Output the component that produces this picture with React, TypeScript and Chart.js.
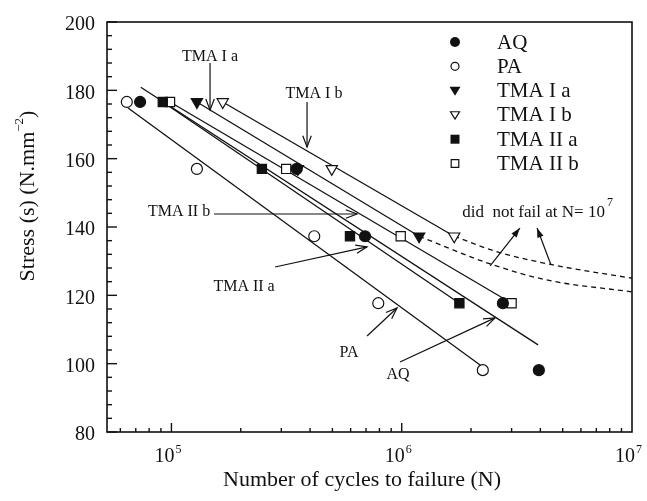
import React, { useEffect, useRef } from 'react';
import { Chart, registerables } from 'chart.js';

Chart.register(...registerables);

const FONT = '"Liberation Serif", "Times New Roman", serif';
const INK = '#111111';

// ---- axis ranges / ticks ----
const xMin = 52500;
const xMax = 10000000;
const yMin = 80;
const yMax = 200;
const yTickLabels = [80, 100, 120, 140, 160, 180, 200];
const xTickExponents = [5, 6, 7];

// ---- test data: cycles to failure at each stress level (N/mm^2) ----
const aqCycles = [73100, 350000, 693000, 2750000, 3940000];
const aqStress = [176.6, 157.0, 137.3, 117.7, 98.1];
const paCycles = [64000, 129000, 417000, 791000, 2250000];
const paStress = [176.6, 157.0, 137.3, 117.7, 98.1];
const tma1aCycles = [129000, 354000, 1190000];
const tma1aStress = [176.6, 157.0, 137.3];
const tma1bCycles = [167000, 497000, 1690000];
const tma1bStress = [176.6, 157.0, 137.3];
const tma2aCycles = [91700, 247000, 596000, 1780000];
const tma2aStress = [176.6, 157.0, 137.3, 117.7];
const tma2bCycles = [98600, 315000, 990000, 3000000];
const tma2bStress = [176.6, 157.0, 137.3, 117.7];

// ---- fitted S-N lines (end points) ----
const paFitCycles = [64800, 2250000];
const paFitStress = [174.8, 99.0];
const aqFitCycles = [73600, 3910000];
const aqFitStress = [180.9, 105.5];
const tma1aFitCycles = [129000, 1190000];
const tma1aFitStress = [176.6, 137.3];
const tma1bFitCycles = [167000, 1690000];
const tma1bFitStress = [176.6, 137.3];
const tma2aFitCycles = [91700, 1780000];
const tma2aFitStress = [176.6, 117.7];
const tma2bFitCycles = [98600, 3000000];
const tma2bFitStress = [176.6, 117.7];

// ---- run-out (did not fail) dashed curves ----
const tma1aRunCycles = [1190000, 2420000, 4260000, 10000000];
const tma1aRunStress = [137.3, 129.2, 124.5, 121.0];
const tma1bRunCycles = [1690000, 2580000, 4550000, 10000000];
const tma1bRunStress = [137.3, 132.8, 128.9, 125.0];

// ---- legend ----
const legendLabels = ['AQ', 'PA', 'TMA I a', 'TMA I b', 'TMA II a', 'TMA II b'];

// ---- annotations (data coordinates) ----
const noteTexts = [
  { text: 'TMA I a', n: 147100, s: 189.8 },
  { text: 'TMA I b', n: 416000, s: 178.9 },
  { text: 'TMA II b', n: 107900, s: 144.4 },
  { text: 'TMA II a', n: 206700, s: 122.4 },
  { text: 'PA', n: 590000, s: 103.1 },
  { text: 'AQ', n: 964000, s: 96.7 },
];
const noteArrows = [
  { from: [147100, 188.0], to: [147100, 174.2], filled: false },
  { from: [388000, 176.6], to: [388000, 163.4], filled: false },
  { from: [153100, 143.8], to: [639500, 143.8], filled: false },
  { from: [281800, 128.3], to: [707000, 134.2], filled: false },
  { from: [707000, 108.1], to: [954000, 116.3], filled: false },
  { from: [983000, 100.5], to: [2540000, 113.4], filled: false },
  { from: [2420000, 128.6], to: [3260000, 139.7], filled: true },
  { from: [4450000, 128.9], to: [3870000, 139.7], filled: true },
];
const runoutNote = { text: 'did  not fail at N= 10', sup: '7', n: 1830000, s: 142.8 };

const xTitle = 'Number of cycles to failure (N)';
const yTitleMain = 'Stress (s) (N.mm';
const yTitleSup = '\u22122';
const yTitleEnd = ')';

const pts = (xs: number[], ys: number[]) => xs.map((x, i) => ({ x, y: ys[i] }));

function arrowHead(ctx: CanvasRenderingContext2D, x1: number, y1: number, x2: number, y2: number, filled: boolean) {
  const len = filled ? 10 : 12;
  const ang = filled ? 0.33 : 0.36;
  const a = Math.atan2(y2 - y1, x2 - x1);
  const p1x = x2 - len * Math.cos(a - ang);
  const p1y = y2 - len * Math.sin(a - ang);
  const p2x = x2 - len * Math.cos(a + ang);
  const p2y = y2 - len * Math.sin(a + ang);
  ctx.beginPath();
  if (filled) {
    ctx.moveTo(x2, y2);
    ctx.lineTo(p1x, p1y);
    ctx.lineTo(p2x, p2y);
    ctx.closePath();
    ctx.fill();
  } else {
    ctx.moveTo(p1x, p1y);
    ctx.lineTo(x2, y2);
    ctx.lineTo(p2x, p2y);
    ctx.stroke();
  }
}

function legendMarker(ctx: CanvasRenderingContext2D, idx: number, x: number, y: number) {
  const kinds = ['circle', 'circle', 'tri', 'tri', 'rect', 'rect'];
  const filled = idx % 2 === 0;
  const kind = kinds[idx];
  ctx.beginPath();
  if (kind === 'circle') {
    ctx.arc(x, y, filled ? 5 : 4, 0, Math.PI * 2);
  } else if (kind === 'tri') {
    const r = filled ? 5.5 : 4.5;
    ctx.moveTo(x - r, y - r * 0.7);
    ctx.lineTo(x + r, y - r * 0.7);
    ctx.lineTo(x, y + r * 0.95);
    ctx.closePath();
  } else {
    const h = filled ? 4.5 : 3.8;
    ctx.rect(x - h, y - h, 2 * h, 2 * h);
  }
  if (filled) {
    ctx.fillStyle = INK;
    ctx.fill();
  } else {
    ctx.fillStyle = '#fff';
    ctx.fill();
    ctx.lineWidth = 1.2;
    ctx.strokeStyle = INK;
    ctx.stroke();
  }
}

const overlayPlugin = {
  id: 'snOverlay',
  afterDraw(chart: any) {
    const ctx: CanvasRenderingContext2D = chart.ctx;
    const xs = chart.scales.x;
    const ys = chart.scales.y;
    const { left, right, top, bottom } = chart.chartArea;
    const X = (v: number) => xs.getPixelForValue(v);
    const Y = (v: number) => ys.getPixelForValue(v);
    ctx.save();
    ctx.strokeStyle = INK;
    ctx.fillStyle = INK;

    // frame
    ctx.lineWidth = 1.6;
    ctx.strokeRect(left, top, right - left, bottom - top);

    // y ticks (inside)
    ctx.lineWidth = 1.4;
    for (let v = yMin; v <= yMax; v += 4) {
      const py = Y(v);
      const major = v % 20 === 0;
      ctx.beginPath();
      ctx.moveTo(left, py);
      ctx.lineTo(left + (major ? 10 : 5), py);
      ctx.stroke();
    }
    ctx.font = `20px ${FONT}`;
    ctx.textAlign = 'right';
    ctx.textBaseline = 'middle';
    yTickLabels.forEach((v) => ctx.fillText(String(v), left - 12, Y(v) + 3));

    // x ticks (inside)
    for (let e = 4; e <= 6; e++) {
      for (let m = 1; m <= 9; m++) {
        const v = m * Math.pow(10, e);
        if (v <= xMin || v >= xMax) continue;
        const px = X(v);
        ctx.beginPath();
        ctx.moveTo(px, bottom);
        ctx.lineTo(px, bottom - (m === 1 ? 9 : 4));
        ctx.stroke();
      }
    }
    xTickExponents.forEach((e) => {
      const px = X(Math.pow(10, e));
      ctx.font = `20px ${FONT}`;
      ctx.textAlign = 'right';
      ctx.textBaseline = 'middle';
      ctx.fillText('10', px + 3, bottom + 25);
      ctx.font = `12px ${FONT}`;
      ctx.textAlign = 'left';
      ctx.fillText(String(e), px + 4, bottom + 18);
    });

    // axis titles
    ctx.font = `22px ${FONT}`;
    ctx.textAlign = 'center';
    ctx.textBaseline = 'middle';
    ctx.fillText(xTitle, 362, bottom + 48);

    ctx.save();
    ctx.translate(28, 196);
    ctx.rotate(-Math.PI / 2);
    ctx.font = `22px ${FONT}`;
    const w1 = ctx.measureText(yTitleMain).width;
    ctx.font = `13px ${FONT}`;
    const w2 = ctx.measureText(yTitleSup).width;
    ctx.font = `22px ${FONT}`;
    const w3 = ctx.measureText(yTitleEnd).width;
    let sx = -(w1 + w2 + w3) / 2;
    ctx.textAlign = 'left';
    ctx.textBaseline = 'middle';
    ctx.fillText(yTitleMain, sx, 0);
    sx += w1;
    ctx.font = `13px ${FONT}`;
    ctx.fillText(yTitleSup, sx, -8);
    sx += w2;
    ctx.font = `22px ${FONT}`;
    ctx.fillText(yTitleEnd, sx, 0);
    ctx.restore();

    // legend
    const lx = right - 177;
    const tx = right - 135;
    legendLabels.forEach((lab, i) => {
      const ly = top + 20 + i * 24.3;
      legendMarker(ctx, i, lx, ly);
      ctx.fillStyle = INK;
      ctx.font = `21px ${FONT}`;
      ctx.textAlign = 'left';
      ctx.textBaseline = 'middle';
      ctx.fillText(lab, tx, ly + 1);
    });

    // annotation labels
    ctx.fillStyle = INK;
    ctx.font = `16px ${FONT}`;
    ctx.textAlign = 'center';
    ctx.textBaseline = 'middle';
    noteTexts.forEach((t) => ctx.fillText(t.text, X(t.n), Y(t.s)));

    // run-out note
    ctx.font = `17px ${FONT}`;
    ctx.textAlign = 'left';
    ctx.textBaseline = 'alphabetic';
    const rx = X(runoutNote.n);
    const ry = Y(runoutNote.s);
    ctx.fillText(runoutNote.text, rx, ry);
    const rw = ctx.measureText(runoutNote.text).width;
    ctx.font = `12px ${FONT}`;
    ctx.fillText(runoutNote.sup, rx + rw + 2, ry - 11);

    // arrows
    ctx.lineWidth = 1.2;
    ctx.strokeStyle = INK;
    ctx.fillStyle = INK;
    noteArrows.forEach((a) => {
      const x1 = X(a.from[0]);
      const y1 = Y(a.from[1]);
      const x2 = X(a.to[0]);
      const y2 = Y(a.to[1]);
      ctx.beginPath();
      ctx.moveTo(x1, y1);
      ctx.lineTo(x2, y2);
      ctx.stroke();
      arrowHead(ctx, x1, y1, x2, y2, a.filled);
    });

    ctx.restore();
  },
};

export default function App() {
  const ref = useRef<HTMLCanvasElement | null>(null);

  useEffect(() => {
    if (!ref.current) return;
    const lineDs = (xs: number[], ys: number[], dashed = false) => ({
      data: pts(xs, ys),
      showLine: true,
      borderColor: INK,
      borderWidth: 1.3,
      borderDash: dashed ? [5, 4] : [],
      pointRadius: 0,
      fill: false,
      cubicInterpolationMode: dashed ? 'monotone' : 'default',
      order: 2,
    });
    const ptDs = (xs: number[], ys: number[], style: string, filled: boolean, radius: number, rotation = 0) => ({
      data: pts(xs, ys),
      showLine: false,
      pointStyle: style,
      pointRotation: rotation,
      pointRadius: radius,
      pointBackgroundColor: filled ? INK : '#ffffff',
      pointBorderColor: INK,
      pointBorderWidth: 1.2,
      order: 1,
    });

    const chart = new Chart(ref.current, {
      type: 'scatter',
      data: {
        datasets: [
          ptDs(aqCycles, aqStress, 'circle', true, 5.5),
          ptDs(paCycles, paStress, 'circle', false, 5.5),
          ptDs(tma1aCycles, tma1aStress, 'triangle', true, 6.5, 180),
          ptDs(tma1bCycles, tma1bStress, 'triangle', false, 6.5, 180),
          ptDs(tma2aCycles, tma2aStress, 'rect', true, 6.5),
          ptDs(tma2bCycles, tma2bStress, 'rect', false, 6.5),
          lineDs(paFitCycles, paFitStress),
          lineDs(aqFitCycles, aqFitStress),
          lineDs(tma1aFitCycles, tma1aFitStress),
          lineDs(tma1bFitCycles, tma1bFitStress),
          lineDs(tma2aFitCycles, tma2aFitStress),
          lineDs(tma2bFitCycles, tma2bFitStress),
          lineDs(tma1aRunCycles, tma1aRunStress, true),
          lineDs(tma1bRunCycles, tma1bRunStress, true),
        ] as any,
      },
      options: {
        animation: false,
        responsive: false,
        events: [],
        layout: { padding: { left: 107, top: 22, right: 15, bottom: 69 } },
        plugins: { legend: { display: false }, tooltip: { enabled: false } },
        scales: {
          x: { type: 'logarithmic', min: xMin, max: xMax, display: false },
          y: { type: 'linear', min: yMin, max: yMax, display: false },
        },
      } as any,
      plugins: [overlayPlugin],
    });
    return () => chart.destroy();
  }, []);

  return (
    <div style={{ position: 'absolute', left: 0, top: 0, width: 647, height: 501, background: '#fff' }}>
      <canvas ref={ref} width={647} height={501} />
    </div>
  );
}
